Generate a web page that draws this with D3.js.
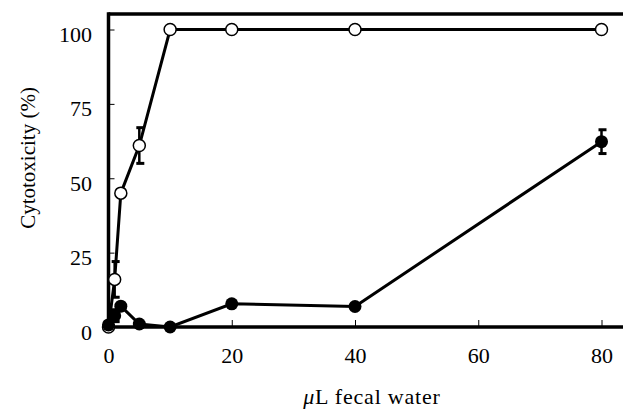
<!DOCTYPE html>
<html><head><meta charset="utf-8">
<script src="https://cdn.jsdelivr.net/npm/d3@7"></script>
<style>html,body{margin:0;padding:0;background:#fff;}svg{display:block;}
svg text{font-family:"Liberation Serif","DejaVu Serif",serif !important;}</style>
</head><body>
<script>
// Data
const openX = [0, 1, 2, 5, 10, 20, 40, 80];
const openY = [0, 16, 45, 61, 100, 100, 100, 100];
const openErr = [0, 6, 0, 6, 0, 0, 0, 0];
const filledX = [0, 1, 2, 5, 10, 20, 40, 80];
const filledY = [0.7, 3.8, 7, 1, 0, 7.8, 6.9, 62.3];
const filledErr = [0, 2, 0, 0, 0, 0, 0, 4];
const xTicks = [0, 20, 40, 60, 80];
const yTicks = [0, 25, 50, 75, 100];

(function () {
const W = 623, H = 411;
const svg = d3.select("body").append("svg").attr("width", W).attr("height", H);
const x = d3.scaleLinear().domain([0, 80]).range([108.5, 601.5]);
const y = d3.scaleLinear().domain([0, 100]).range([327, 29.5]);

// Frame
const leftX = x(0), bottomY = y(0), topY = 14;
svg.append("line").attr("x1", leftX).attr("x2", W).attr("y1", topY).attr("y2", topY)
  .attr("stroke", "#000").attr("stroke-width", 3.5);
svg.append("line").attr("x1", leftX).attr("x2", W).attr("y1", bottomY).attr("y2", bottomY)
  .attr("stroke", "#000").attr("stroke-width", 3.5);
svg.append("line").attr("x1", leftX).attr("x2", leftX).attr("y1", topY - 1.75).attr("y2", bottomY + 1.75)
  .attr("stroke", "#000").attr("stroke-width", 3.5);

// Axes via d3 axes (ticks inward)
const yAxis = d3.axisLeft(y).tickValues(yTicks).tickSize(-6).tickPadding(16).tickFormat(d3.format("d"));
const gy = svg.append("g").attr("transform", `translate(${leftX},0)`).call(yAxis);
gy.select(".domain").remove();
gy.selectAll(".tick line").attr("stroke", "#000").attr("stroke-width", 1).filter(d => d === 0).remove();
gy.selectAll(".tick text").style("font-size", "22px").attr("fill", "#000").attr("x", -16.5).attr("y", 5);

const xAxis = d3.axisBottom(x).tickValues(xTicks).tickSize(-7).tickPadding(16).tickFormat(d3.format("d"));
const gx = svg.append("g").attr("transform", `translate(0,${bottomY})`).call(xAxis);
gx.select(".domain").remove();
gx.selectAll(".tick line").attr("stroke", "#000").attr("stroke-width", 1).filter(d => d === 0).remove();
gx.selectAll(".tick text").style("font-size", "22px").attr("fill", "#000").attr("y", 20);

// Axis titles
svg.append("text").attr("x", 372).attr("y", 404).attr("text-anchor", "middle")
  .style("font-size", "22px").style("letter-spacing", "0.8px").attr("fill", "#000")
  .html('<tspan font-style="italic">μ</tspan>L fecal water');
svg.append("text").attr("transform", "translate(35,158) rotate(-90)").attr("text-anchor", "middle")
  .style("font-size", "21px").attr("fill", "#000")
  .text("Cytotoxicity (%)");

const line = d3.line().x(d => x(d[0])).y(d => y(d[1]));
const openPts = openX.map((v, i) => [v, openY[i], openErr[i]]);
const filledPts = filledX.map((v, i) => [v, filledY[i], filledErr[i]]);

svg.append("path").datum(openPts).attr("d", line).attr("fill", "none")
  .attr("stroke", "#000").attr("stroke-width", 3);
svg.append("path").datum(filledPts).attr("d", line).attr("fill", "none")
  .attr("stroke", "#000").attr("stroke-width", 3);

// Error bars
function errBars(pts) {
  const g = svg.append("g").attr("stroke", "#000").attr("stroke-width", 2.5);
  pts.filter(d => d[2] > 0).forEach(d => {
    const cx = x(d[0]);
    g.append("line").attr("x1", cx).attr("x2", cx).attr("y1", y(d[1] + d[2])).attr("y2", y(d[1] - d[2]));
    [d[1] + d[2], d[1] - d[2]].forEach(v => {
      g.append("line").attr("x1", cx - 3).attr("x2", cx + 5).attr("y1", y(v)).attr("y2", y(v)).attr("stroke-width", 3);
    });
  });
}
errBars(openPts);
errBars(filledPts);

svg.append("g").selectAll("circle").data(openPts).join("circle")
  .attr("cx", d => x(d[0])).attr("cy", d => y(d[1])).attr("r", 6)
  .attr("fill", "#fff").attr("stroke", "#000").attr("stroke-width", 1.5);
svg.append("g").selectAll("circle").data(filledPts).join("circle")
  .attr("cx", d => x(d[0])).attr("cy", d => y(d[1])).attr("r", 6.5)
  .attr("fill", "#000");
})();
</script>
</body></html>
